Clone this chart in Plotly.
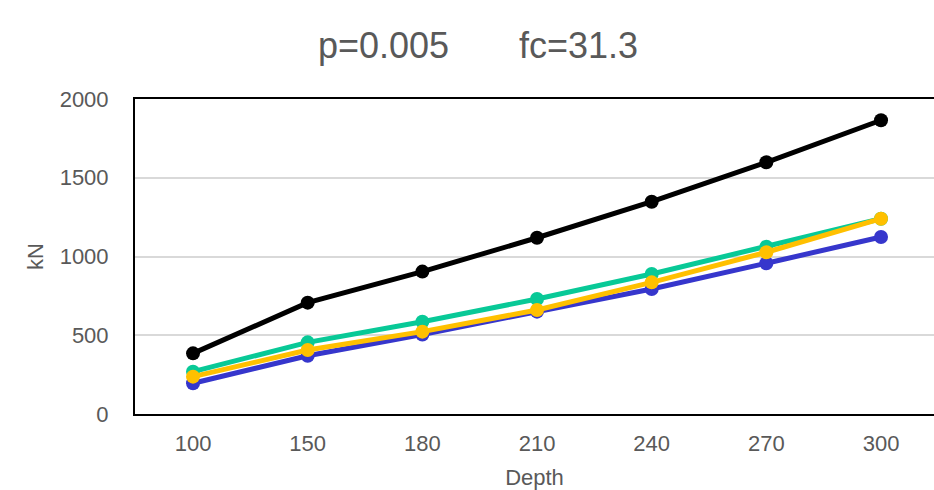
import plotly.graph_objects as go

depth = ["100", "150", "180", "210", "240", "270", "300"]
series_black = [385, 707, 904, 1119, 1348, 1598, 1865]
series_blue = [195, 370, 505, 650, 794, 957, 1124]
series_teal = [269, 455, 586, 730, 889, 1062, 1240]
series_yellow = [237, 406, 523, 660, 836, 1027, 1240]
y_ticks = [0, 500, 1000, 1500, 2000]

names = ["Series 1", "Series 2", "Series 3", "Series 4"]
data = [series_black, series_blue, series_teal, series_yellow]
colors = ["#000000", "#3636CC", "#08C997", "#FFC000"]

fig = go.Figure()
for n, d, c in zip(names, data, colors):
    fig.add_trace(go.Scatter(
        x=depth, y=d, name=n, mode="lines+markers",
        line=dict(color=c, width=5),
        marker=dict(color=c, size=14),
        showlegend=False,
    ))

font_family = "Liberation Sans, Arial, sans-serif"
fig.update_layout(
    width=934, height=490,
    margin=dict(l=135, r=0, t=99, b=76),
    paper_bgcolor="white", plot_bgcolor="white",
    font=dict(family=font_family, color="#595959", size=22),
    title=dict(
        text="p=0.005" + "\u00a0" * 7 + "fc=31.3",
        font=dict(size=36, color="#595959", family=font_family),
        x=478 / 934, xref="container", xanchor="center",
        y=1 - 45 / 490, yref="container", yanchor="middle",
    ),
    xaxis=dict(
        type="category",
        range=[-0.506, 6.462],
        automargin=False,
        showline=True, linecolor="black", linewidth=2, mirror=True,
        showgrid=False, ticks="",
        ticklabelstandoff=9,
        tickfont=dict(size=22, color="#595959"),
        title=dict(text="Depth", font=dict(size=22, color="#595959"), standoff=21),
    ),
    yaxis=dict(
        range=[0, 2000],
        tickvals=y_ticks,
        showline=True, linecolor="black", linewidth=2, mirror=False,
        showgrid=True, gridcolor="#D9D9D9", gridwidth=1.5,
        zeroline=False, ticks="",
        ticklabelstandoff=20,
        tickfont=dict(size=22, color="#595959"),
        title=dict(text="kN", font=dict(size=22, color="#595959"), standoff=10),
    ),
)

fig.write_html("out.html")
